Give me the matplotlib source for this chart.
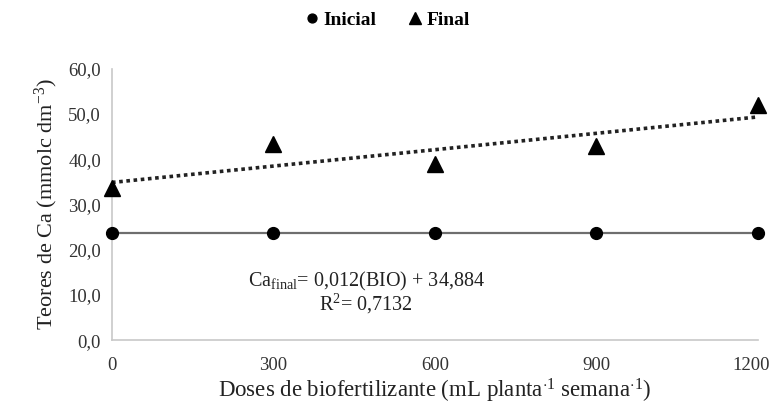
import matplotlib
matplotlib.use('Agg')
import matplotlib.pyplot as plt
import matplotlib.transforms as mtrans
from matplotlib.ticker import FuncFormatter
import numpy as np

plt.rcParams['font.family'] = ['Liberation Serif', 'DejaVu Serif']
plt.rcParams['mathtext.fontset'] = 'custom'
plt.rcParams['mathtext.rm'] = 'Liberation Serif'
plt.rcParams['mathtext.it'] = 'Liberation Serif:italic'

doses = [0, 300, 600, 900, 1200]
inicial = [23.8, 23.8, 23.8, 23.8, 23.8]
final = [33.6, 43.3, 38.9, 42.9, 51.9]
y_ticks = [0, 10, 20, 30, 40, 50, 60]
eq_text = r'Ca$_{\mathrm{final}}$= 0,012(BIO) + 34,884'
r2_text = r'R$^{2}$= 0,7132'

fig = plt.figure(figsize=(7.74, 4.05), dpi=100)
ax = fig.add_axes([0.1447, 0.160, 0.834, 0.670])

ax.plot(doses, inicial, color='#6e6e6e', lw=1.6, marker='o', ms=8.5,
        mfc='black', mec='black', clip_on=False, label='Inicial', zorder=3)
ax.plot(doses, final, ls='none', marker='^', ms=12, mfc='black', mec='black',
        clip_on=False, label='Final', zorder=3)

# linear trend of the final values
coef = np.polyfit(doses, final, 1)
xs = np.array([doses[0], doses[-1]])
ax.plot(xs, np.polyval(coef, xs), color='#222222', lw=2.6, ls=(0, (1, 1.0)), zorder=2)

ax.set_xlim(0, 1200)
ax.set_ylim(0, 60)
ax.set_xticks(doses)
ax.set_yticks(y_ticks)
ax.yaxis.set_major_formatter(FuncFormatter(lambda v, p: f'{v:.1f}'.replace('.', ',')))
ax.tick_params(length=0, labelsize=13.5, colors='#333333', pad=8)
ax.tick_params(axis='x', pad=12)
for s in ['top', 'right']:
    ax.spines[s].set_visible(False)
for s in ['left', 'bottom']:
    ax.spines[s].set_color('#c8c8c8')
    ax.spines[s].set_linewidth(1.2)

# nudge the last x label left so it stays inside the figure
lbl = ax.get_xticklabels()[-1]
lbl.set_transform(lbl.get_transform() + mtrans.ScaledTranslation(-6 / 100, 0, fig.dpi_scale_trans))

ax.set_xlabel(r'Doses de biofertilizante (mL planta$^{\cdot1}$ semana$^{\cdot1}$)',
              fontsize=16.5, color='#222222', labelpad=2)
ax.set_ylabel(r'Teores de Ca (mmolc dm$^{-3}$)', fontsize=16, color='#222222', labelpad=6)

ax.text(0.394, 0.218, eq_text, transform=ax.transAxes, ha='center', va='center',
        fontsize=14.5, color='#222222')
ax.text(0.394, 0.133, r2_text, transform=ax.transAxes, ha='center', va='center',
        fontsize=14.5, color='#222222')

fig.legend(loc='center', bbox_to_anchor=(0.50, 0.95), ncol=2, frameon=False,
           prop={'weight': 'bold', 'size': 14}, handlelength=0.8, handletextpad=0.2,
           columnspacing=1.6, markerscale=0.75)
leg = fig.legends[0]
for h in leg.legend_handles:
    h.set_linestyle('none')

fig.savefig('out.png', dpi=100)
